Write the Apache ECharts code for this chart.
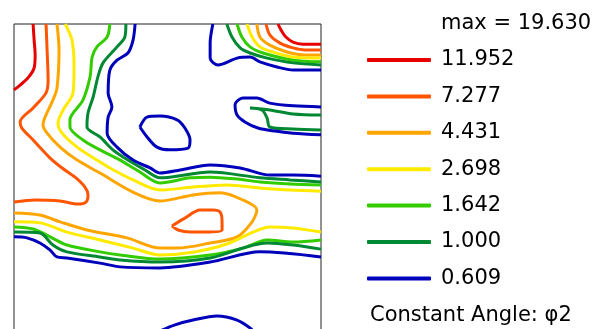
<!DOCTYPE html>
<html>
<head>
<meta charset="utf-8">
<script src="https://cdn.jsdelivr.net/npm/echarts@6/dist/echarts.min.js"></script>
<style>
  html, body { margin: 0; padding: 0; background: #fff; }
  #chart { width: 601px; height: 329px; }
</style>
</head>
<body>
<div id="chart"></div>
<script>
// contour levels, top to bottom in the key
const levels = ["11.952", "7.277", "4.431", "2.698", "1.642", "1.000", "0.609"];
const maxLabel = "max = 19.630";
const sectionLabel = "Constant Angle: \u03c62";

const red1 = [[5.6,0],[5.9,4.7],[6.2,9.1],[5.9,12.9],[4.1,15.8],[1.8,17.9],[0,19.3]];
const red2 = [[77.4,0],[78.3,1.8],[79.7,3.8],[81.8,5.3],[84.7,5.9],[90,5.9]];

const orangeRed1 = [[9.4,0],[9.7,7.6],[10.0,16.4],[9.4,20.2],[5.6,24.6],[1.8,28.7],[2.3,30.5],[5.6,34.0],[10.6,39.3],[14.1,42.2],[17.9,44.9],[20.8,47.8],[21.7,50.1],[21.1,52.2],[18.8,52.8],[13.5,51.9],[6.2,51.6],[0,52.2]];
const orangeRed2 = [[73.9,0],[75.0,3.2],[78.0,5.6],[81.8,7.0],[85.3,7.6],[90,7.6]];
const orangeRed3 = [[46.3,59.2],[50.1,56.9],[54.5,54.5],[58.3,54.5],[60.4,55.1],[61.0,58.0],[61.0,60.4],[56.0,61.0],[51.6,61.0],[48.1,60.4],[46.3,59.2]];

const orange1 = [[12.6,0],[13.2,7.6],[12.6,18.8],[11.4,22.3],[9.1,27.3],[8.5,29.5],[9.7,32.0],[13.5,36.1],[18.5,39.9],[25.2,43.7],[34.9,49.3],[42.8,51.9],[52.5,50.1],[60.4,49.5],[67.1,51.6],[71.2,54.5],[69.8,58.0],[65.4,62.4],[57.5,64.2],[47.8,65.7],[42.8,65.7],[33.1,62.7],[21.4,60.4],[13.5,58.0],[7.6,56.0],[0,55.4]];
const orange2 = [[71.2,0],[72.1,3.8],[75.0,6.2],[80.0,8.2],[85.3,9.1],[90,9.1]];

const yellow1 = [[15.0,0],[17.0,4.7],[17.6,12.6],[17.3,20.2],[14.4,25.2],[12.9,29.0],[14.1,32.0],[18.5,36.1],[24.3,39.9],[28.1,42.2],[34.9,45.7],[42.8,48.7],[52.5,47.8],[62.4,47.2],[72.1,48.1],[80.9,48.7],[90,49.0]];
const yellow2 = [[0,58.0],[7.6,58.3],[15.5,61.0],[25.2,63.3],[34.9,65.7],[42.8,67.7],[52.5,66.9],[62.4,64.5],[70.1,61.0],[75.0,59.5],[81.8,59.8],[90,61.0]];
const yellow3 = [[68.3,0],[69.8,3.8],[72.1,6.7],[75.9,8.2],[81.8,9.7],[90,10.0]];

const lightGreen1 = [[28.1,0],[27.3,3.8],[24.3,6.7],[22.9,9.7],[22.3,15.5],[20.2,22.3],[16.4,28.1],[16.4,30.2],[20.2,34.0],[25.2,36.9],[31.1,39.9],[36.9,43.4],[42.8,46.6],[51.6,45.1],[57.5,44.9],[64.8,45.4],[72.1,46.3],[80.9,46.9],[90,47.2]];
const lightGreen2 = [[0,59.5],[5.6,60.1],[10.6,62.4],[15.5,64.8],[25.2,66.8],[31.1,67.7],[42.8,68.9],[57.5,67.7],[67.1,65.7],[74.2,63.3],[81.8,63.9],[90,63.3]];
const lightGreen3 = [[65.4,0],[66.8,3.8],[69.2,6.7],[73.0,8.5],[81.8,10.6],[90,11.1]];

const darkGreen1 = [[32.8,0],[32.5,3.8],[30.2,6.7],[26.1,11.4],[24.6,15.5],[23.2,21.4],[21.7,26.1],[21.4,30.2],[25.2,33.1],[29.0,36.9],[33.4,39.9],[38.4,42.8],[42.8,45.1],[57.5,43.4],[72.1,45.1],[80.9,45.7],[90,46.3]];
const darkGreen2 = [[0,61.0],[7.6,61.3],[11.4,64.8],[15.5,66.8],[25.2,68.3],[31.1,69.2],[42.8,69.8],[57.5,68.6],[74.2,64.2],[81.8,64.8],[90,66.0]];
const darkGreen3 = [[62.4,0],[63.9,3.8],[66.3,7.0],[69.2,8.5],[74.2,10.0],[81.8,11.4],[90,12.0]];
const darkGreen4 = [[90,26.7],[81.8,26.4],[75.0,25.2],[69.2,24.6],[72.7,25.2],[74.2,27.6],[75.0,30.2],[81.8,30.8],[90,31.1]];

const blue1 = [[35.5,0],[34.9,4.7],[33.4,8.5],[30.2,10.6],[28.1,13.5],[27.6,20.2],[28.7,24.3],[27.6,27.3],[27.3,32.0],[30.2,36.1],[34.9,39.9],[39.9,42.2],[42.8,43.7],[48.7,42.8],[57.5,41.3],[66.3,42.2],[75.0,44.3],[81.8,44.3],[90,44.6]];
const blue2 = [[0,62.4],[3.8,62.7],[7.6,64.2],[10.6,66.3],[12.6,68.3],[15.5,68.6],[25.2,70.1],[31.1,71.2],[42.8,71.5],[57.5,69.8],[72.1,66.8],[90,68.3]];
const blue3 = [[58.3,0],[57.5,5.6],[57.5,10.0],[59.8,12.0],[65.4,10.0],[69.2,9.7],[72.1,11.1],[77.1,12.6],[81.8,13.5],[90,13.5]];
const blue4 = [[36.9,30.2],[39.0,27.3],[42.8,27.0],[47.8,28.1],[50.1,30.5],[51.6,34.0],[51.0,36.4],[45.7,36.9],[41.9,36.1],[39.0,33.1],[36.9,30.2]];
const blue5 = [[90,24.3],[81.8,24.0],[75.0,23.2],[71.2,21.7],[67.1,21.7],[64.8,23.7],[65.4,26.7],[67.7,28.7],[71.5,30.5],[76.5,31.4],[81.8,32.0],[90,32.5]];
const blue6 = [[42.8,90],[47.2,88.2],[52.5,86.8],[59.5,85.6],[65.4,86.8],[69.2,89.1],[70.6,90.6]];

const paths = [
  [0, red1], [0, red2],
  [1, orangeRed1], [1, orangeRed2], [1, orangeRed3],
  [2, orange1], [2, orange2],
  [3, yellow1], [3, yellow2], [3, yellow3],
  [4, lightGreen1], [4, lightGreen2], [4, lightGreen3],
  [5, darkGreen1], [5, darkGreen2], [5, darkGreen3], [5, darkGreen4],
  [6, blue1], [6, blue2], [6, blue3], [6, blue4], [6, blue5], [6, blue6],
];

const colors = ["#e60000", "#ff5500", "#ffa500", "#ffea00", "#33cc00", "#008833", "#0000bb"];
const font = "DejaVu Sans";

const chart = echarts.init(document.getElementById("chart"));

chart.setOption({
  animation: false,
  grid: {
    left: 14, top: 24, width: 307, height: 307,
    outerBoundsMode: "none",
    show: true, borderColor: "#222", borderWidth: 1, backgroundColor: "transparent"
  },
  xAxis: {
    type: "value", min: 0, max: 90,
    axisLine: { show: false }, axisTick: { show: false },
    axisLabel: { show: false }, splitLine: { show: false }
  },
  yAxis: {
    type: "value", min: 0, max: 90, inverse: true,
    axisLine: { show: false }, axisTick: { show: false },
    axisLabel: { show: false }, splitLine: { show: false }
  },
  legend: {
    orient: "vertical",
    left: 367, top: 49,
    padding: 0,
    itemGap: 14.4,
    itemWidth: 64, itemHeight: 4,
    icon: "roundRect",
    data: levels,
    selectedMode: false,
    textStyle: { fontFamily: font, fontSize: 21, color: "#000", lineHeight: 22, padding: [0, 0, 0, 5] }
  },
  graphic: [
    { type: "text", left: 441, top: 13, style: { text: maxLabel, font: "21px " + font, fill: "#000" } },
    { type: "text", left: 370, top: 305, style: { text: sectionLabel, font: "21px " + font, fill: "#000" } }
  ],
  series: paths.map(([lvl, pts]) => ({
    name: levels[lvl],
    type: "line",
    data: pts,
    symbol: "none",
    smooth: 0.3,
    silent: true,
    lineStyle: { width: 3, color: colors[lvl] },
    itemStyle: { color: colors[lvl] }
  }))
});
</script>
</body>
</html>
